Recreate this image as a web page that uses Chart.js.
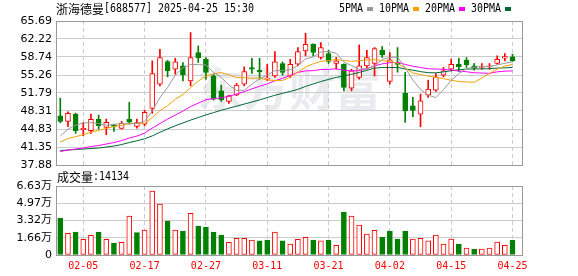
<!DOCTYPE html>
<html>
<head>
<meta charset="utf-8">
<script src="https://cdn.jsdelivr.net/npm/chart.js@4.4.1/dist/chart.umd.min.js"></script>
<style>
  html, body { margin: 0; padding: 0; background: #fff; }
  #wrap { position: relative; width: 578px; height: 276px; }
  #wrap canvas { position: absolute; left: 0; top: 0; }
</style>
</head>
<body>
<div id="wrap">
  <canvas id="volChart" width="578" height="276"></canvas>
  <canvas id="klineChart" width="578" height="276"></canvas>
</div>
<script>
// header
var stockName = '浙海德曼';
var stockCode = '688577';
var quoteTime = '2025-04-25 15:30';

// trading days
var dates = ['01-23','01-24','01-27','02-05','02-06','02-07','02-10','02-11','02-12','02-13',
             '02-14','02-17','02-18','02-19','02-20','02-21','02-24','02-25','02-26','02-27',
             '02-28','03-03','03-04','03-05','03-06','03-07','03-10','03-11','03-12','03-13',
             '03-14','03-17','03-18','03-19','03-20','03-21','03-24','03-25','03-26','03-27',
             '03-28','03-31','04-01','04-02','04-03','04-07','04-08','04-09','04-10','04-11',
             '04-14','04-15','04-16','04-17','04-18','04-21','04-22','04-23','04-24','04-25'];

var openPx  = [47.38,46.30,47.71,44.69,44.49,46.69,45.14,45.59,44.96,46.69,
               45.34,45.78,48.81,53.49,57.87,56.38,57.02,54.13,59.60,58.31,
               55.09,52.20,50.16,51.37,53.49,56.71,56.19,54.46,55.09,57.48,
               55.09,57.34,59.91,61.20,58.64,59.41,57.48,57.34,52.72,54.78,
               57.02,57.48,60.04,54.01,57.54,51.70,49.31,47.71,51.37,52.33,
               55.23,56.38,57.34,58.12,57.02,56.71,56.83,57.48,58.50,58.75];
var highPx  = [50.79,48.16,47.90,46.11,47.71,47.52,46.75,45.78,46.30,49.97,
               46.75,48.48,57.98,60.24,58.10,58.50,57.67,63.45,60.87,58.64,
               55.42,53.30,51.40,53.63,56.83,58.50,58.50,57.34,59.79,57.79,
               58.31,60.56,63.32,61.30,61.53,60.04,58.64,57.40,56.38,61.07,
               60.04,60.56,60.76,59.60,60.56,55.75,50.93,51.57,54.26,55.55,
               56.71,58.31,58.50,58.64,57.48,57.48,57.48,58.95,59.41,59.27];
var lowPx   = [46.03,45.27,43.99,43.53,43.99,44.82,43.72,44.38,44.82,45.78,
               45.01,45.46,47.85,53.16,54.90,55.42,54.13,53.16,57.67,54.46,
               50.41,50.16,49.77,51.24,53.16,55.55,54.46,54.13,54.78,55.23,
               54.78,57.02,58.95,58.95,58.31,57.48,56.38,52.20,52.20,54.46,
               56.38,55.09,58.64,53.49,55.80,46.11,47.19,45.27,50.93,52.08,
               54.90,56.06,55.94,56.71,56.19,56.38,56.38,57.34,57.98,57.87];
var closePx = [46.30,47.85,44.49,44.96,46.69,45.46,46.11,45.34,45.92,46.15,
               46.08,48.04,55.55,58.64,56.06,57.79,55.28,58.64,58.55,55.75,
               50.60,50.50,51.24,53.30,55.94,56.38,55.86,54.65,57.79,55.75,
               57.34,59.79,61.20,59.60,60.56,57.87,57.98,52.86,56.06,57.02,
               58.64,60.37,59.14,58.17,57.29,48.35,48.40,50.27,52.53,54.90,
               56.06,57.34,56.83,57.21,56.58,56.83,57.02,58.31,58.83,57.98];

var volumes = [35200,20800,22100,15100,18900,22100,15100,11500,12200,37500,
               21500,24000,61500,49000,32700,24000,23100,40000,27900,26900,
               22100,19200,12200,16000,16000,14400,13500,14400,22100,13500,
               10600,15100,17000,14400,13500,14400, 9300,41300,37500,28800,
               20200,23700,17000,23100,15400,23100,15400,16000,13500,19200,
               10600,15400,10600, 6700, 5800, 5800, 6700,12500, 9300,14134];

var ma5  = [43.47,44.82,45.59,45.98,46.06,45.89,45.54,45.71,45.90,45.80,
            45.92,46.31,48.35,50.89,52.87,55.22,56.66,57.28,57.26,57.20,
            55.76,54.81,53.33,52.28,52.32,53.47,54.54,55.23,56.12,56.09,
            56.28,57.06,58.37,58.74,59.70,59.80,59.44,57.77,57.07,56.36,
            56.51,56.99,58.25,58.67,58.72,56.66,54.27,52.50,51.37,50.89,
            52.43,54.22,55.53,56.47,56.80,56.96,56.89,57.19,57.51,57.79];
var ma10 = [42.30,43.00,43.35,43.75,44.20,44.55,44.95,45.30,45.55,45.93,
            45.91,45.92,47.03,48.40,49.34,50.57,51.49,52.82,54.08,55.04,
            55.49,55.74,55.31,54.77,54.76,54.62,54.68,54.28,54.20,54.20,
            54.88,55.80,56.80,57.43,57.89,58.04,58.25,58.07,57.90,58.03,
            58.16,58.22,58.01,57.87,57.54,56.59,55.63,55.37,55.02,54.81,
            54.55,54.25,54.01,53.92,53.85,54.70,55.56,56.36,56.99,57.30];
var ma20 = [40.48,40.77,40.97,41.16,41.45,41.64,41.93,42.22,42.60,43.09,
            43.47,44.05,45.01,45.88,46.75,47.52,48.29,49.16,49.83,50.48,
            50.70,50.83,51.17,51.58,52.05,52.59,53.08,53.55,54.14,54.62,
            55.18,55.77,56.05,56.10,56.33,56.33,56.46,56.18,56.05,56.11,
            56.52,57.01,57.41,57.65,57.72,57.31,56.94,56.72,56.46,56.42,
            56.35,56.23,56.01,55.89,55.69,55.64,55.59,55.87,56.00,56.05];
var ma30 = [40.68,40.77,40.87,40.97,41.06,41.16,41.35,41.54,41.83,42.22,
            42.55,42.95,43.50,44.20,44.85,45.45,46.00,46.55,47.05,47.55,
            48.00,48.45,48.85,49.25,49.65,50.05,50.45,50.90,51.35,51.72,
            52.09,52.49,53.05,53.53,54.00,54.41,54.80,55.06,55.39,55.76,
            56.17,56.59,56.71,56.69,56.73,56.42,56.19,55.91,55.71,55.68,
            55.86,56.09,56.27,56.41,56.43,56.44,56.48,56.60,56.64,56.71];

var maLabels = ['5PMA', '10PMA', '20PMA', '30PMA'];
var priceTicks = [37.88, 41.35, 44.83, 48.31, 51.79, 55.26, 58.74, 62.22, 65.69];
var volTicks = [0, 16575, 33150, 49725, 66300];
var volTickLabels = ['0', '1.66万', '3.32万', '4.97万', '6.63万'];
var dateTickIdx = [3, 11, 19, 27, 35, 43, 51, 59];

var RED = '#ff0000';
var GREEN = '#008000';
var maColors = ['#999999', '#f5a200', '#ff00ff', '#006633'];

var lastIdx = dates.length - 1;

function toPoints(arr) {
    return arr.map(function (v, i) { return {x: i, y: v}; });
}

// candle colour by close vs open, volume colour by close vs previous close
var isUp = closePx.map(function (c, i) { return c >= openPx[i]; });
var volUp = closePx.map(function (c, i) {
    return i === 0 ? c >= openPx[0] : c >= closePx[i - 1];
});

function xAxis(showLabels) {
    return {
        type: 'linear',
        min: -0.56,
        max: 60.24,
        offset: false,
        afterBuildTicks: function (s) {
            s.ticks = dateTickIdx.map(function (v) { return {value: v}; });
        },
        grid: { color: '#cccccc', drawTicks: false, offset: false },
        border: { display: false, dash: [4, 3] },
        ticks: {
            display: showLabels,
            autoSkip: false,
            maxRotation: 0,
            padding: 5,
            color: RED,
            font: { family: 'DejaVu Sans Mono', size: 10 },
            callback: function (v) { return dates[v]; }
        },
        afterFit: function (s) { s.height = showLabels ? 21 : 0; }
    };
}

var framePlugin = {
    id: 'frame',
    afterDraw: function (chart) {
        var a = chart.chartArea, ctx = chart.ctx;
        ctx.save();
        ctx.strokeStyle = '#999999';
        ctx.lineWidth = 1;
        ctx.strokeRect(a.left + 0.5, a.top + 0.5, a.right - a.left, a.bottom - a.top);
        ctx.restore();
    }
};

var headerPlugin = {
    id: 'header',
    beforeDatasetsDraw: function (chart) {
        // watermark
        var ctx = chart.ctx;
        ctx.save();
        ctx.font = 'bold 46px "Noto Sans CJK SC"';
        ctx.fillStyle = 'rgba(200, 204, 212, 0.4)';
        ctx.textBaseline = 'middle';
        ctx.fillText('东方财富', 197, 89);
        ctx.restore();
    },
    afterDraw: function (chart) {
        var ctx = chart.ctx;
        ctx.save();
        ctx.textBaseline = 'middle';
        ctx.fillStyle = '#000';
        ctx.font = '12px "Noto Sans CJK SC"';
        ctx.fillText(stockName, 56, 9);
        var w = ctx.measureText(stockName).width;
        var s = '[' + stockCode + '] ' + quoteTime;
        ctx.font = '12px "DejaVu Sans Mono"';
        ctx.fillText(s, 56 + w, 9, s.length * 6);

        // MA legend
        var x = 339;
        maLabels.forEach(function (lab, k) {
            ctx.fillStyle = '#000';
            ctx.fillText(lab, x, 9, lab.length * 6);
            x += lab.length * 6 + 4;
            ctx.fillStyle = maColors[k];
            ctx.fillRect(x, 7, 6, 4);
            x += 12;
        });
        ctx.restore();
    }
};

var volLabelPlugin = {
    id: 'volLabel',
    afterDraw: function (chart) {
        var ctx = chart.ctx;
        ctx.save();
        ctx.textBaseline = 'middle';
        ctx.fillStyle = '#000';
        ctx.font = '12px "Noto Sans CJK SC"';
        ctx.fillText('成交量', 57, 177);
        var w = ctx.measureText('成交量').width;
        var s = ':' + volumes[lastIdx];
        ctx.font = '12px "DejaVu Sans Mono"';
        ctx.fillText(s, 57 + w, 177, s.length * 6);
        ctx.restore();
    }
};

var maDatasets = [ma5, ma10, ma20, ma30].map(function (arr, k) {
    return {
        type: 'line',
        data: toPoints(arr),
        borderColor: maColors[k],
        borderWidth: 1,
        pointRadius: 0,
        tension: 0,
        fill: false,
        order: 0
    };
});

new Chart(document.getElementById('klineChart'), {
    type: 'bar',
    data: {
        datasets: [{
            // wicks
            data: lowPx.map(function (l, i) { return {x: i, y: [l, highPx[i]]}; }),
            backgroundColor: isUp.map(function (u) { return u ? RED : GREEN; }),
            barThickness: 1,
            grouped: false,
            order: 2
        }, {
            // bodies
            data: openPx.map(function (o, i) { return {x: i, y: [o, closePx[i]]}; }),
            backgroundColor: isUp.map(function (u) { return u ? '#ffffff' : GREEN; }),
            borderColor: isUp.map(function (u) { return u ? RED : GREEN; }),
            borderWidth: 1,
            borderSkipped: false,
            barThickness: 5,
            minBarLength: 1,
            grouped: false,
            order: 1
        }].concat(maDatasets)
    },
    options: {
        responsive: false,
        animation: false,
        events: [],
        layout: { padding: { top: 21, right: 56, bottom: 111, left: 0 } },
        plugins: { legend: { display: false }, tooltip: { enabled: false } },
        scales: {
            x: xAxis(false),
            y: {
                position: 'left',
                min: 37.88,
                max: 65.69,
                afterBuildTicks: function (s) {
                    s.ticks = priceTicks.map(function (v) { return {value: v}; });
                },
                grid: { color: '#cccccc', drawTicks: false },
                border: { display: false },
                ticks: {
                    autoSkip: false,
                    padding: 4,
                    color: '#000',
                    font: { family: 'DejaVu Sans', size: 11 },
                    callback: function (v) { return v.toFixed(2); }
                },
                afterFit: function (s) { s.width = 56; }
            }
        }
    },
    plugins: [headerPlugin, framePlugin]
});

new Chart(document.getElementById('volChart'), {
    type: 'bar',
    data: {
        datasets: [{
            data: toPoints(volumes),
            backgroundColor: volUp.map(function (u) { return u ? '#ffffff' : GREEN; }),
            borderColor: volUp.map(function (u) { return u ? RED : GREEN; }),
            borderWidth: 1,
            borderSkipped: false,
            barThickness: 5,
            grouped: false
        }]
    },
    options: {
        responsive: false,
        animation: false,
        events: [],
        layout: { padding: { top: 186, right: 56, bottom: 0, left: 0 } },
        plugins: { legend: { display: false }, tooltip: { enabled: false } },
        scales: {
            x: xAxis(true),
            y: {
                position: 'left',
                min: 0,
                max: 66300,
                afterBuildTicks: function (s) {
                    s.ticks = volTicks.map(function (v) { return {value: v}; });
                },
                grid: { color: '#cccccc', drawTicks: false },
                border: { display: false },
                ticks: {
                    autoSkip: false,
                    padding: 4,
                    color: '#000',
                    font: { family: 'DejaVu Sans, "Noto Sans CJK SC"', size: 11 },
                    callback: function (v, idx) { return volTickLabels[idx]; }
                },
                afterFit: function (s) { s.width = 56; }
            }
        }
    },
    plugins: [volLabelPlugin, framePlugin]
});
</script>
</body>
</html>
